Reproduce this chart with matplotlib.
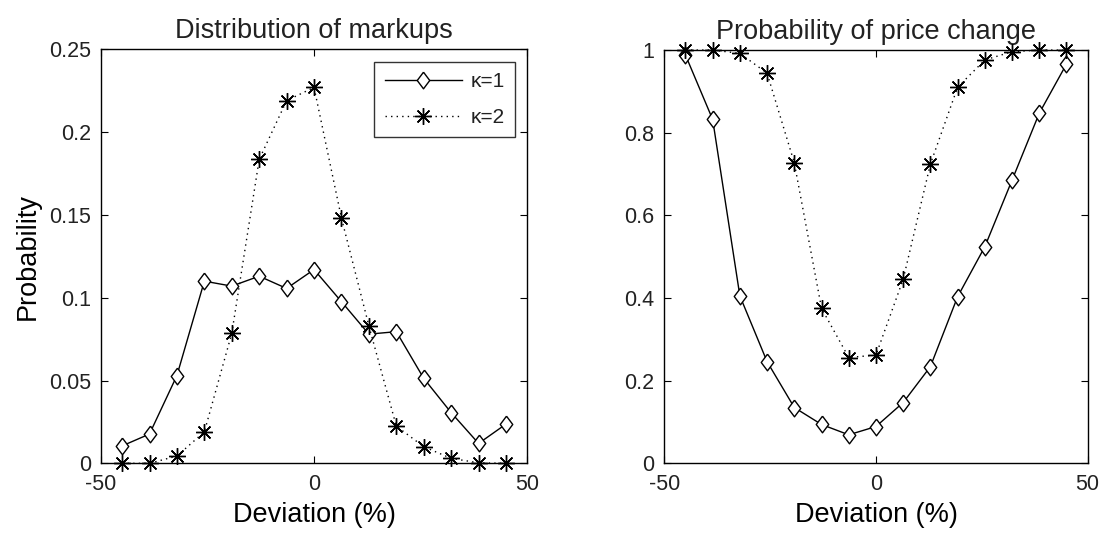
import matplotlib.pyplot as plt
import numpy as np

plt.rcParams["font.family"] = ["Liberation Sans", "DejaVu Sans"]
plt.rcParams["axes.unicode_minus"] = False
plt.rcParams["text.color"] = "#222222"

# deviation grid (%), 15 points
deviation = np.linspace(-45, 45, 15)

# distribution of markups
markup_k1 = [0.0105, 0.0177, 0.053, 0.110, 0.107, 0.113, 0.1056, 0.117,
             0.0976, 0.078, 0.0795, 0.0513, 0.0306, 0.012, 0.0237]
markup_k2 = [0.0, 0.0, 0.0044, 0.019, 0.0785, 0.1835, 0.219, 0.227,
             0.148, 0.083, 0.0225, 0.010, 0.003, 0.0003, 0.0]

# probability of price change
change_k1 = [0.988, 0.832, 0.405, 0.246, 0.135, 0.094, 0.069, 0.089,
             0.147, 0.234, 0.403, 0.524, 0.685, 0.847, 0.966]
change_k2 = [1.0, 1.0, 0.992, 0.944, 0.727, 0.375, 0.256, 0.262,
             0.445, 0.724, 0.91, 0.976, 0.996, 1.0, 1.0]

labels = ["\u03ba=1", "\u03ba=2"]

# matlab style diamond, a bit taller than wide
diamond = [(0, 1), (0.75, 0), (0, -1), (-0.75, 0), (0, 1)]
star = (8, 2, 0)

fig = plt.figure(figsize=(11.17, 5.4), dpi=100)
ax1 = fig.add_axes([0.0902, 0.142, 0.3819, 0.7667])
ax2 = fig.add_axes([0.5947, 0.142, 0.3790, 0.7653])


def draw(ax, y1, y2):
    ax.plot(deviation, y1, color="black", linewidth=1.0, marker=diamond,
            markersize=12, markerfacecolor="white", markeredgecolor="black",
            markeredgewidth=1.0, label=labels[0], clip_on=False, zorder=3)
    ax.plot(deviation, y2, color="black", linewidth=1.0, linestyle=(0, (1, 3)),
            marker=star, markersize=12, markeredgewidth=1.0,
            markeredgecolor="black", label=labels[1], clip_on=False, zorder=4)
    ax.set_xlim(-50, 50)
    ax.set_xticks([-50, 0, 50])
    ax.tick_params(direction="in", top=True, right=True, length=5,
                   width=0.8, labelsize=15.5, colors="black",
                   labelcolor="#222222")
    ax.tick_params(axis="y", pad=7)
    ax.tick_params(axis="x", pad=8)
    for s in ax.spines.values():
        s.set_linewidth(1.0)
    ax.set_xlabel("Deviation (%)", fontsize=19.5, labelpad=5)


draw(ax1, markup_k1, markup_k2)
ax1.set_ylim(0, 0.25)
ax1.set_yticks([0, 0.05, 0.1, 0.15, 0.2, 0.25])
ax1.set_yticklabels(["0", "0.05", "0.1", "0.15", "0.2", "0.25"])
ax1.set_ylabel("Probability", fontsize=19.5, labelpad=6)
ax1.set_title("Distribution of markups", fontsize=19.5, pad=8)
leg = ax1.legend(loc="upper right", fontsize=15, handlelength=3.7,
                 frameon=True, fancybox=False, borderaxespad=0.6,
                 borderpad=0.5, labelspacing=0.8, handletextpad=0.4)
leg.get_frame().set_edgecolor("black")
leg.get_frame().set_linewidth(1.0)

draw(ax2, change_k1, change_k2)
ax2.set_ylim(0, 1)
ax2.set_yticks([0, 0.2, 0.4, 0.6, 0.8, 1])
ax2.set_yticklabels(["0", "0.2", "0.4", "0.6", "0.8", "1"])
ax2.set_title("Probability of price change", fontsize=19.5, pad=8)

plt.savefig("out.png", dpi=100)
